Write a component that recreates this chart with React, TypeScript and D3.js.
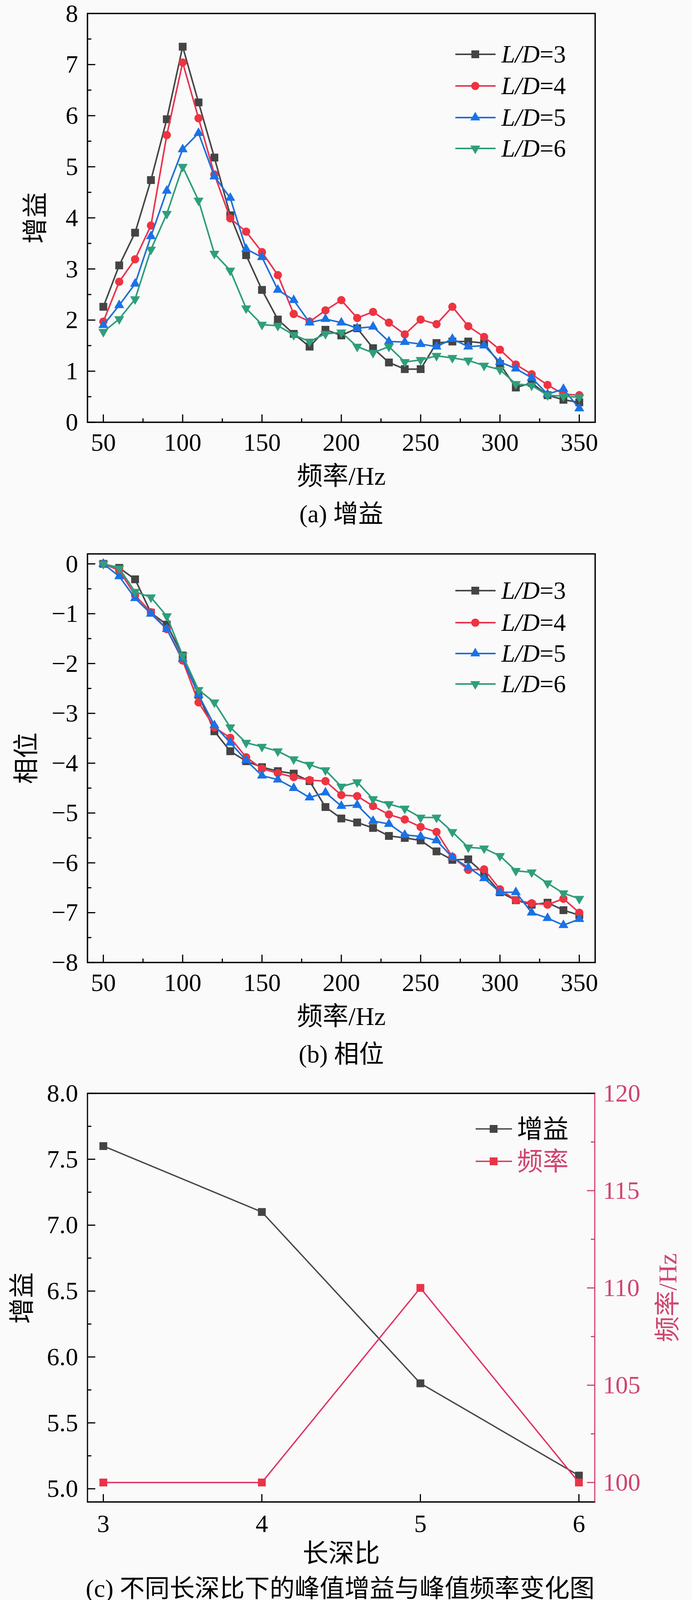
import React, { useEffect, useRef } from "react";
import * as d3 from "d3";

const freqs = [50, 60, 70, 80, 90, 100, 110, 120, 130, 140, 150, 160, 170, 180, 190, 200, 210, 220, 230, 240, 250, 260, 270, 280, 290, 300, 310, 320, 330, 340, 350];

const gainLD3 = [2.26, 3.07, 3.71, 4.74, 5.93, 7.35, 6.26, 5.18, 4.05, 3.27, 2.59, 2.01, 1.73, 1.48, 1.81, 1.70, 1.84, 1.45, 1.17, 1.04, 1.04, 1.55, 1.58, 1.58, 1.55, 1.14, 0.68, 0.77, 0.53, 0.44, 0.39];
const gainLD4 = [1.97, 2.75, 3.19, 3.85, 5.62, 7.04, 5.95, 4.85, 3.99, 3.73, 3.33, 2.88, 2.12, 1.97, 2.19, 2.39, 2.04, 2.16, 1.95, 1.72, 2.01, 1.92, 2.26, 1.88, 1.67, 1.42, 1.13, 0.94, 0.73, 0.55, 0.53];
const gainLD5 = [1.90, 2.29, 2.71, 3.64, 4.53, 5.34, 5.66, 4.81, 4.39, 3.39, 3.23, 2.59, 2.39, 1.95, 2.02, 1.95, 1.84, 1.87, 1.58, 1.57, 1.53, 1.48, 1.63, 1.48, 1.50, 1.18, 1.05, 0.87, 0.55, 0.65, 0.27];
const gainLD6 = [1.77, 2.02, 2.41, 3.38, 4.08, 5.00, 4.34, 3.30, 2.97, 2.23, 1.91, 1.89, 1.71, 1.58, 1.73, 1.76, 1.48, 1.36, 1.48, 1.18, 1.22, 1.30, 1.26, 1.21, 1.11, 1.03, 0.75, 0.72, 0.53, 0.51, 0.49];

const phaseLD3 = [0, -0.08, -0.31, -0.98, -1.22, -1.84, -2.63, -3.36, -3.76, -3.96, -4.08, -4.16, -4.21, -4.36, -4.88, -5.11, -5.19, -5.30, -5.46, -5.50, -5.55, -5.77, -5.94, -5.93, -6.22, -6.59, -6.75, -6.84, -6.80, -6.95, -7.05];
const phaseLD4 = [0, -0.13, -0.63, -0.97, -1.31, -1.94, -2.78, -3.28, -3.49, -3.88, -4.11, -4.20, -4.28, -4.34, -4.36, -4.64, -4.66, -4.86, -5.03, -5.13, -5.28, -5.38, -5.88, -6.14, -6.13, -6.53, -6.75, -6.81, -6.84, -6.72, -7.00];
const phaseLD5 = [0, -0.25, -0.69, -1.00, -1.31, -1.91, -2.63, -3.24, -3.59, -3.94, -4.25, -4.33, -4.50, -4.69, -4.59, -4.86, -4.84, -5.16, -5.22, -5.44, -5.47, -5.55, -5.89, -6.09, -6.31, -6.59, -6.59, -7.00, -7.11, -7.25, -7.13];
const phaseLD6 = [0, -0.09, -0.56, -0.67, -1.05, -1.84, -2.53, -2.78, -3.28, -3.59, -3.67, -3.76, -3.92, -4.03, -4.14, -4.47, -4.38, -4.72, -4.82, -4.91, -5.09, -5.09, -5.38, -5.69, -5.71, -5.86, -6.16, -6.19, -6.41, -6.61, -6.72];

const seriesNames = ["3", "4", "5", "6"];

const ratios = [3, 4, 5, 6];
const peakGain = [7.6, 7.1, 5.8, 5.1];
const peakFreq = [100, 100, 110, 100];

const freqTicks = [50, 100, 150, 200, 250, 300, 350];
const gainTicks = [0, 1, 2, 3, 4, 5, 6, 7, 8];
const phaseTicks = [0, -1, -2, -3, -4, -5, -6, -7, -8];
const ratioTicks = [3, 4, 5, 6];
const peakGainTicks = [5.0, 5.5, 6.0, 6.5, 7.0, 7.5, 8.0];
const peakFreqTicks = [100, 105, 110, 115, 120];

const SERIF = "'Liberation Serif', 'Times New Roman', 'Noto Sans CJK SC', serif";
const COLORS = [
  { line: "#474747", fill: "#444444" },
  { line: "#e83550", fill: "#ef3340" },
  { line: "#1f6fd6", fill: "#1a72e6" },
  { line: "#2e9c7a", fill: "#2f9e7c" },
];
const SHAPES = ["square", "circle", "up", "down"];
const PINK = "#e0325f";
const PINK_AXIS = "#cf4570";
const TICK_FS = 64;
const TITLE_FS = 66;

function marker(g: any, shape: string, x: number, y: number, fill: string) {
  const s = shape === "square" ? d3.symbol(d3.symbolSquare, 400)
    : shape === "circle" ? d3.symbol(d3.symbolCircle, 350)
    : d3.symbol(d3.symbolTriangle, 280);
  return g.append("path").attr("d", s()).attr("fill", fill)
    .attr("transform", `translate(${x},${y})` + (shape === "down" ? " rotate(180)" : ""));
}

function ticksInside(g: any, orient: string, scale: any, vals: number[], len: number, pos: number, color = "#000", w = 3) {
  vals.forEach((v) => {
    const p = scale(v);
    if (orient === "bottom") g.append("line").attr("x1", p).attr("x2", p).attr("y1", pos).attr("y2", pos - len).attr("stroke", color).attr("stroke-width", w);
    if (orient === "left") g.append("line").attr("y1", p).attr("y2", p).attr("x1", pos).attr("x2", pos + len).attr("stroke", color).attr("stroke-width", w);
    if (orient === "right") g.append("line").attr("y1", p).attr("y2", p).attr("x1", pos).attr("x2", pos - len).attr("stroke", color).attr("stroke-width", w);
  });
}

function text(g: any, x: number, y: number, str: string, opts: any = {}) {
  const t = g.append("text").attr("x", x).attr("y", y).text(str)
    .attr("font-family", SERIF).attr("font-size", opts.size || TICK_FS)
    .attr("fill", opts.color || "#000")
    .attr("text-anchor", opts.anchor || "middle");
  if (opts.rotate) t.attr("transform", `rotate(-90,${x},${y})`);
  if (opts.baseline) t.attr("dominant-baseline", opts.baseline);
  return t;
}

function freqChart(svg: any, data: number[][], yDomain: number[], yRange: number[], yTicks: number[], yMinor: number[], yLabel: string, yLabelX: number, legendY: number[], caption: string, fmtY: (v: number) => string) {
  const x = d3.scaleLinear().domain([40, 360]).range([224, 1524]);
  const y = d3.scaleLinear().domain(yDomain).range(yRange);
  const g = svg.append("g");
  const [bottom, top] = yRange;
  ticksInside(g, "bottom", x, freqTicks, 20, bottom);
  ticksInside(g, "bottom", x, d3.range(75, 350, 50), 10, bottom);
  ticksInside(g, "left", y, yTicks, 20, 224);
  ticksInside(g, "left", y, yMinor, 10, 224);
  data.forEach((vals, i) => {
    const line = d3.line<number>().x((_, j) => x(freqs[j])).y((d) => y(d));
    g.append("path").attr("d", line(vals)).attr("fill", "none").attr("stroke", COLORS[i].line).attr("stroke-width", 4).attr("stroke-linejoin", "round");
    vals.forEach((v, j) => marker(g, SHAPES[i], x(freqs[j]), y(v), COLORS[i].fill));
  });
  g.append("rect").attr("x", 224).attr("y", top).attr("width", 1300).attr("height", bottom - top).attr("fill", "none").attr("stroke", "#000").attr("stroke-width", 3.5);
  freqTicks.forEach((v) => text(g, x(v), bottom + 73, String(v)));
  yTicks.forEach((v) => text(g, 200, y(v) + 21, fmtY(v), { anchor: "end" }));
  text(g, 874, bottom + 160, "频率/Hz", { size: TITLE_FS });
  text(g, yLabelX, (top + bottom) / 2, yLabel, { size: TITLE_FS, rotate: true, baseline: "central" });
  text(g, 874, bottom + 256, caption, { size: 64 });
  seriesNames.forEach((n, i) => {
    const ly = legendY[i];
    g.append("line").attr("x1", 1166).attr("x2", 1269).attr("y1", ly).attr("y2", ly).attr("stroke", COLORS[i].line).attr("stroke-width", 4);
    marker(g, SHAPES[i], 1217, ly, COLORS[i].fill);
    const t = g.append("text").attr("x", 1284).attr("y", ly + 21).attr("font-family", SERIF).attr("font-size", 63).attr("fill", "#000");
    t.append("tspan").attr("font-style", "italic").text("L/D");
    t.append("tspan").text("=" + n);
  });
}

export default function App() {
  const ref = useRef<SVGSVGElement>(null);
  useEffect(() => {
    const svg = d3.select(ref.current);
    svg.selectAll("*").remove();
    svg.append("rect").attr("width", 1772).attr("height", 4110).attr("fill", "#fafafa");

    const minus = (v: number) => (v < 0 ? "\u2212" + Math.abs(v) : String(v));

    freqChart(svg, [gainLD3, gainLD4, gainLD5, gainLD6], [0, 8], [1081, 34.5], gainTicks, d3.range(0.5, 8, 1), "增益", 90, [139, 220, 301, 380], "(a) 增益", (v) => String(v));
    freqChart(svg, [phaseLD3, phaseLD4, phaseLD5, phaseLD6], [-8, 0.2], [2464, 1418], phaseTicks, d3.range(-7.5, 0, 1), "相位", 67, [1512, 1594, 1673, 1751], "(b) 相位", minus);

    const g = svg.append("g");
    const x = d3.scaleLinear().domain([2.9, 6.1]).range([224, 1523]);
    const yL = d3.scaleLinear().domain([4.9, 8.0]).range([3845, 2799]);
    const yR = d3.scaleLinear().domain([99, 120]).range([3845, 2799]);
    ticksInside(g, "bottom", x, ratioTicks, 20, 3845);
    ticksInside(g, "left", yL, peakGainTicks, 20, 224);
    ticksInside(g, "left", yL, d3.range(5.25, 8, 0.5), 10, 224);
    ticksInside(g, "right", yR, peakFreqTicks, 20, 1523, PINK_AXIS, 3);
    ticksInside(g, "right", yR, d3.range(102.5, 120, 5), 10, 1523, PINK_AXIS, 3);

    const lineG = d3.line<number>().x((_, j) => x(ratios[j])).y((d) => yL(d));
    g.append("path").attr("d", lineG(peakGain)).attr("fill", "none").attr("stroke", "#474747").attr("stroke-width", 3.5);
    peakGain.forEach((v, j) => marker(g, "square", x(ratios[j]), yL(v), "#444444"));
    const lineF = d3.line<number>().x((_, j) => x(ratios[j])).y((d) => yR(d));
    g.append("path").attr("d", lineF(peakFreq)).attr("fill", "none").attr("stroke", PINK).attr("stroke-width", 3.5);
    peakFreq.forEach((v, j) => marker(g, "square", x(ratios[j]), yR(v), "#ea3346"));

    g.append("line").attr("x1", 224).attr("x2", 224).attr("y1", 2799).attr("y2", 3845).attr("stroke", "#000").attr("stroke-width", 3);
    g.append("line").attr("x1", 222.5).attr("x2", 1524.5).attr("y1", 3845).attr("y2", 3845).attr("stroke", "#000").attr("stroke-width", 3.5);
    g.append("line").attr("x1", 222.5).attr("x2", 1524.5).attr("y1", 2799).attr("y2", 2799).attr("stroke", "#000").attr("stroke-width", 3.5);
    g.append("line").attr("x1", 1523).attr("x2", 1523).attr("y1", 2799).attr("y2", 3845).attr("stroke", PINK_AXIS).attr("stroke-width", 3);

    ratioTicks.forEach((v) => text(g, x(v), 3922, String(v)));
    peakGainTicks.forEach((v) => text(g, 200, yL(v) + 21, v.toFixed(1), { anchor: "end" }));
    peakFreqTicks.forEach((v) => text(g, 1544, yR(v) + 21, String(v), { anchor: "start", color: PINK_AXIS }));
    text(g, 874, 3999, "长深比", { size: TITLE_FS });
    text(g, 56, 3323, "增益", { size: TITLE_FS, rotate: true, baseline: "central" });
    text(g, 1709, 3322, "频率/Hz", { size: TITLE_FS, rotate: true, baseline: "central", color: PINK_AXIS });
    text(g, 871, 4088, "(c) 不同长深比下的峰值增益与峰值频率变化图", { size: 64 });

    const leg = [
      { y: 2890, label: "增益", line: "#474747", fill: "#444444", color: "#000" },
      { y: 2973, label: "频率", line: PINK, fill: "#ea3346", color: PINK_AXIS },
    ];
    leg.forEach((l) => {
      g.append("line").attr("x1", 1218).attr("x2", 1311).attr("y1", l.y).attr("y2", l.y).attr("stroke", l.line).attr("stroke-width", 3.5);
      marker(g, "square", 1264, l.y, l.fill);
      text(g, 1324, l.y + 23, l.label, { size: TITLE_FS, anchor: "start", color: l.color });
    });
  }, []);
  return (
    <svg ref={ref} width={1772} height={4110} style={{ position: "absolute", left: 0, top: 0, display: "block" }} />
  );
}
